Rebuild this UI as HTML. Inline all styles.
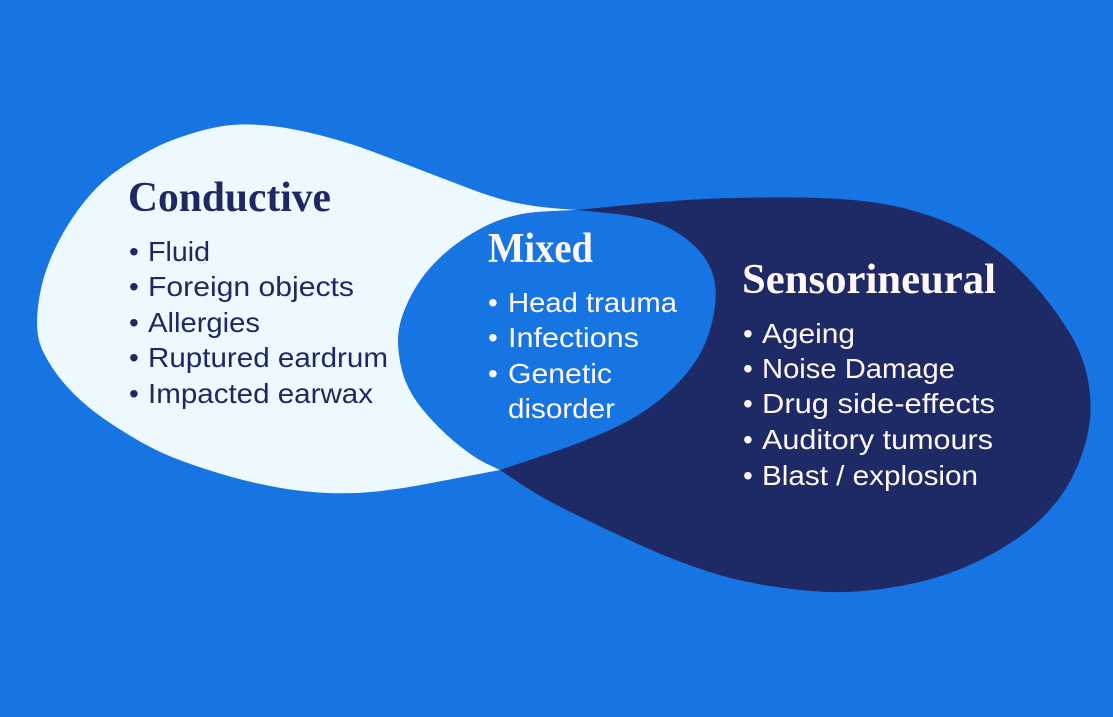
<!DOCTYPE html>
<html>
<head>
<meta charset="utf-8">
<style>
  html,body{margin:0;padding:0;background:#1674E3;}
  body{width:1113px;height:717px;overflow:hidden;}
  svg{display:block;}
  .t{font-family:"Liberation Serif",serif;font-weight:bold;font-size:42px;}
  .l{font-family:"Liberation Sans",sans-serif;font-size:28px;}
</style>
</head>
<body>
<svg width="1113" height="717" viewBox="0 0 1113 717" xmlns="http://www.w3.org/2000/svg">
  <defs>
    <path id="darkP" d="M577 210 L612 206.5 Q647 203 680 200.5 Q713 198 763 197.5 Q813 197 846.5 199.5 Q880 202 905 208.5 Q930 215 950 223.5 Q970 232 987.5 243.5 Q1005 255 1020 270 Q1035 285 1047.5 301 Q1060 317 1070 333.5 Q1080 350 1085 367.5 Q1090 385 1090.5 404 Q1091 423 1085.5 443 Q1080 463 1070 481.5 Q1060 500 1043.5 516.5 Q1027 533 1005 546.5 Q983 560 958 570 Q933 580 903 585.5 Q873 591 846.5 592 Q820 593 780 587.5 Q740 582 706.5 571 Q673 560 640 545 Q607 530 573.5 513.5 Q540 497 520 483.5 L500 470 L486.5 463.5 Q473 457 455 442 Q437 427 422 408.5 Q407 390 402 370 Q397 350 398.5 333.5 Q400 317 411.5 295 Q423 273 443 255 Q463 237 488 225 Q513 213 545 211.5 L577 210 Z"/>
    <path id="lightP" d="M577 210 L557 208.5 Q537 207 517 203 Q497 199 472 189.5 Q447 180 423.5 171 Q400 162 375 152.5 Q350 143 325 136.5 Q300 130 280 127 Q260 124 240 124.5 Q220 125 195 132.5 Q170 140 153.5 148.5 Q137 157 120 168.5 Q103 180 90 195 Q77 210 67 226.5 Q57 243 50 260 Q43 277 40 293.5 Q37 310 37 322.5 Q37 335 40 344 Q43 353 51.5 366.5 Q60 380 73.5 393.5 Q87 407 103.5 418.5 Q120 430 140 441.5 Q160 453 183.5 461.5 Q207 470 230 476.5 Q253 483 278 487.5 Q303 492 328 493 Q353 494 376.5 491.5 Q400 489 423.5 484.5 Q447 480 473.5 475 L500 470 L515 465 Q530 460 555 451.5 Q580 443 606.5 431.5 Q633 420 653 405 Q673 390 686.5 373.5 Q700 357 706.5 340 Q713 323 715 306.5 Q717 290 713.5 276.5 Q710 263 698.5 250 Q687 237 667 227 Q647 217 612 213.5 L577 210 Z"/>
    <clipPath id="dk">
      <use href="#darkP"/>
    </clipPath>
  </defs>
  <rect x="0" y="0" width="1113" height="717" fill="#1674E3"/>

  <use href="#lightP" fill="#EEF8FF"/>
  <use href="#darkP" fill="#1E2A65"/>
  <g clip-path="url(#dk)">
    <use href="#lightP" fill="#1674E3"/>
  </g>

  <!-- Conductive text -->
  <g fill="#1E2964">
    <text class="t" x="128" y="211" textLength="203" lengthAdjust="spacingAndGlyphs">Conductive</text>
    <text class="l" x="129" y="261">•</text>
    <text class="l" x="148" y="261" textLength="62" lengthAdjust="spacingAndGlyphs">Fluid</text>
    <text class="l" x="129" y="296">•</text>
    <text class="l" x="148" y="296" textLength="206" lengthAdjust="spacingAndGlyphs">Foreign objects</text>
    <text class="l" x="129" y="332">•</text>
    <text class="l" x="148" y="332" textLength="112" lengthAdjust="spacingAndGlyphs">Allergies</text>
    <text class="l" x="129" y="367">•</text>
    <text class="l" x="148" y="367" textLength="240" lengthAdjust="spacingAndGlyphs">Ruptured eardrum</text>
    <text class="l" x="129" y="403">•</text>
    <text class="l" x="148" y="403" textLength="225" lengthAdjust="spacingAndGlyphs">Impacted earwax</text>
  </g>

  <!-- Mixed text -->
  <g fill="#FFF7F3">
    <text class="t" x="488" y="262" textLength="105" lengthAdjust="spacingAndGlyphs">Mixed</text>
    <text class="l" x="488" y="312">•</text>
    <text class="l" x="508" y="312" textLength="169" lengthAdjust="spacingAndGlyphs">Head trauma</text>
    <text class="l" x="488" y="347">•</text>
    <text class="l" x="508" y="347" textLength="131" lengthAdjust="spacingAndGlyphs">Infections</text>
    <text class="l" x="488" y="383">•</text>
    <text class="l" x="508" y="383" textLength="104" lengthAdjust="spacingAndGlyphs">Genetic</text>
    <text class="l" x="508" y="418" textLength="107" lengthAdjust="spacingAndGlyphs">disorder</text>
  </g>

  <!-- Sensorineural text -->
  <g fill="#FFF7F3">
    <text class="t" x="742" y="293" textLength="254" lengthAdjust="spacingAndGlyphs">Sensorineural</text>
    <text class="l" x="743" y="343">•</text>
    <text class="l" x="762" y="343" textLength="93" lengthAdjust="spacingAndGlyphs">Ageing</text>
    <text class="l" x="743" y="378">•</text>
    <text class="l" x="762" y="378" textLength="193" lengthAdjust="spacingAndGlyphs">Noise Damage</text>
    <text class="l" x="743" y="413">•</text>
    <text class="l" x="762" y="413" textLength="233" lengthAdjust="spacingAndGlyphs">Drug side-effects</text>
    <text class="l" x="743" y="449">•</text>
    <text class="l" x="762" y="449" textLength="231" lengthAdjust="spacingAndGlyphs">Auditory tumours</text>
    <text class="l" x="743" y="485">•</text>
    <text class="l" x="762" y="485" textLength="216" lengthAdjust="spacingAndGlyphs">Blast / explosion</text>
  </g>
</svg>
</body>
</html>
